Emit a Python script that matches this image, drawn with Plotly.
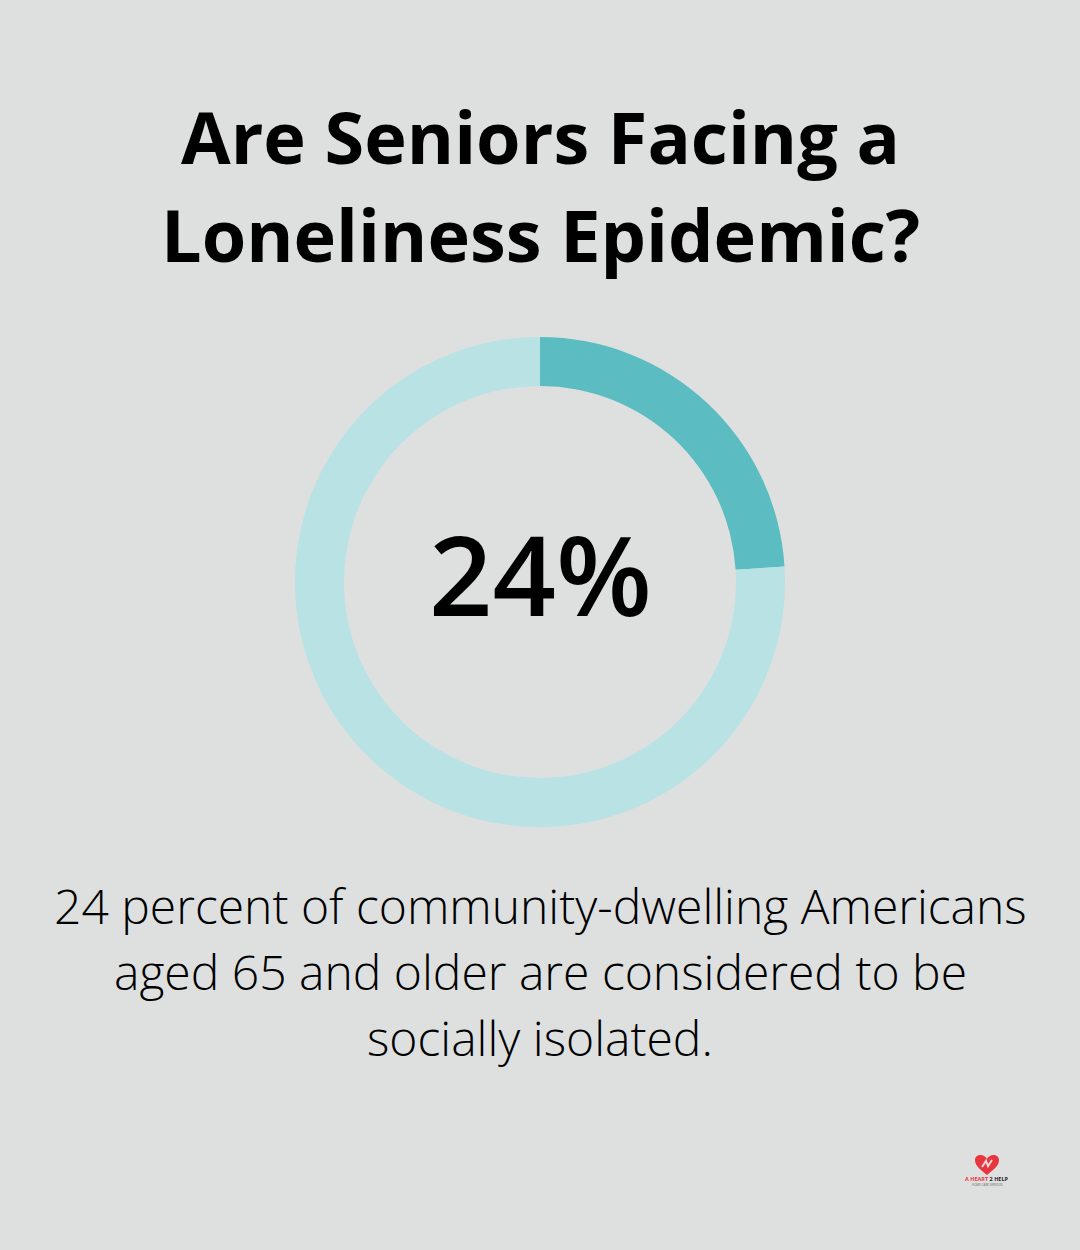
import plotly.graph_objects as go

labels = ["Socially isolated", "Other"]
values = [24, 76]
slice_colors = ["#5bbcc1", "#b8e2e4"]

title_lines = ["Are Seniors Facing a", "Loneliness Epidemic?"]
center_text = "24%"
body_lines = [
    "24 percent of community-dwelling Americans",
    "aged 65 and older are considered to be",
    "socially isolated.",
]
logo_top = "<span style='color:#e8363f'>A HEART</span> 2 HELP"
logo_sub = "HOME CARE SERVICES"

W, H = 1080, 1250
BG = "#dee0e0"

fig = go.Figure(go.Pie(
    labels=labels,
    values=values,
    hole=0.8,
    sort=False,
    direction="clockwise",
    rotation=0,
    marker=dict(colors=slice_colors, line=dict(width=0)),
    textinfo="none",
    hoverinfo="skip",
    showlegend=False,
    domain=dict(x=[295 / W, 785 / W], y=[1 - 827 / H, 1 - 337 / H]),
))


def add_text(text, x_px, y_px, size, weight=400, color="#000000"):
    fig.add_annotation(
        x=x_px / W, y=1 - y_px / H, xref="paper", yref="paper",
        text=text, showarrow=False, xanchor="center", yanchor="middle",
        font=dict(family="Open Sans", size=size, color=color, weight=weight),
    )


def px(x, y):
    return f"{x / W:.5f},{1 - y / H:.5f}"


for line, y_px in zip(title_lines, [136, 234]):
    add_text(line, 540, y_px, 72, weight=700)

add_text(center_text, 540, 573, 111, weight=600)

for line, y_px in zip(body_lines, [905, 971, 1037]):
    add_text(line, 540, y_px, 48, weight=300)

# little logo bottom right
heart = (
    f"M {px(987, 1175)} C {px(980, 1169)} {px(975, 1166)} {px(975, 1160)} "
    f"C {px(975, 1154)} {px(984, 1153)} {px(987, 1159)} "
    f"C {px(990, 1153)} {px(999, 1154)} {px(999, 1160)} "
    f"C {px(999, 1166)} {px(994, 1169)} {px(987, 1175)} Z"
)
hands = f"M {px(982, 1167)} L {px(986, 1161)} L {px(988, 1166)} L {px(992, 1160)}"
fig.add_shape(type="path", xref="paper", yref="paper", path=heart,
              fillcolor="#e8363f", line=dict(width=0))
fig.add_shape(type="path", xref="paper", yref="paper", path=hands,
              line=dict(color="#efd9d9", width=2))
add_text(logo_top, 987, 1179, 5.5, weight=700, color="#222222")
add_text(logo_sub, 987, 1185, 3, color="#666666")

fig.update_layout(
    width=W, height=H,
    margin=dict(l=0, r=0, t=0, b=0),
    paper_bgcolor=BG,
    plot_bgcolor=BG,
)

fig.write_html(
    "out.html",
    config={"displayModeBar": False},
    post_script="document.body.style.margin='0';document.body.style.background='%s';" % BG,
)
